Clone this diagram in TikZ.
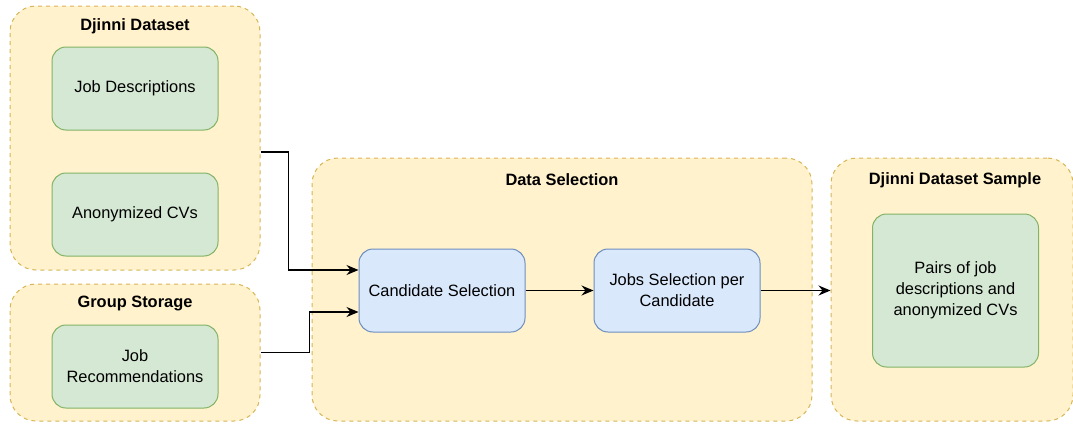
\documentclass[tikz,border=0pt]{standalone}
\usepackage{fontspec}
\setmainfont{Liberation Sans}
\usetikzlibrary{arrows.meta}

\definecolor{boxyellow}{HTML}{FFF2CC}
\definecolor{lineyellow}{HTML}{D6B656}
\definecolor{boxgreen}{HTML}{D5E8D4}
\definecolor{linegreen}{HTML}{82B366}
\definecolor{boxblue}{HTML}{DAE8FC}
\definecolor{lineblue}{HTML}{6C8EBF}

\tikzset{
  group/.style={draw=lineyellow, fill=boxyellow, dash pattern=on 4pt off 4pt, rounded corners=26pt, line width=1pt},
  datanode/.style={draw=linegreen, fill=boxgreen, rounded corners=14pt, line width=1pt, align=center, font=\fontsize{16.4}{21}\selectfont},
  stepnode/.style={draw=lineblue, fill=boxblue, rounded corners=14pt, line width=1pt, align=center, font=\fontsize{16.4}{21}\selectfont, minimum width=166pt, minimum height=83pt},
  grouptitle/.style={font=\fontsize{16.4}{21}\selectfont\bfseries},
  flow/.style={-{Stealth[length=12pt,width=10pt,inset=4pt]}, line width=1.2pt}
}

\begin{document}
\begin{tikzpicture}[x=1pt, y=-1pt]
\useasboundingbox (0,0) rectangle (1073,423);

\node[group, minimum width=250pt, minimum height=264pt] (dd) at (135,138){};
\node[group, minimum width=250pt, minimum height=137pt] (gs) at (135,352.5){};
\node[group, minimum width=500pt, minimum height=263pt] (sel) at (562,289.5){};
\node[group, minimum width=242pt, minimum height=263pt] (smp) at (952,289.5){};

\node[grouptitle] (ddtitle) at (135,26){Djinni Dataset};
\node[grouptitle] (gstitle) at (135,304){Group Storage};
\node[grouptitle] (seltitle) at (562,180){Data Selection};
\node[grouptitle] (smptitle) at (955,180){Djinni Dataset Sample};

\node[datanode, minimum width=166pt, minimum height=83pt] (jd) at (135,88.5){Job Descriptions};
\node[datanode, minimum width=166pt, minimum height=83pt] (cv) at (135,214.5){Anonymized CVs};
\node[datanode, minimum width=166pt, minimum height=83pt] (jr) at (135,366.5){Job\\Recommendations};
\node[datanode, minimum width=166pt, minimum height=153pt] (pairs) at (955.5,290.5){Pairs of job\\descriptions and\\anonymized CVs};

\node[stepnode] (cand) at (442,290.5){Candidate Selection};
\node[stepnode] (jobs) at (677,290.5){Jobs Selection per\\Candidate};

\draw[flow] ([yshift=-14pt]dd.east) -- ++(28,0) |- ([yshift=20.5pt]cand.west);
\draw[flow] (gs.east) -- ++(49,0) |- ([yshift=-21.5pt]cand.west);
\draw[flow] (cand) -- (jobs);
\draw[flow] (jobs.east) -- (smp.west |- jobs.east);

\end{tikzpicture}
\end{document}
